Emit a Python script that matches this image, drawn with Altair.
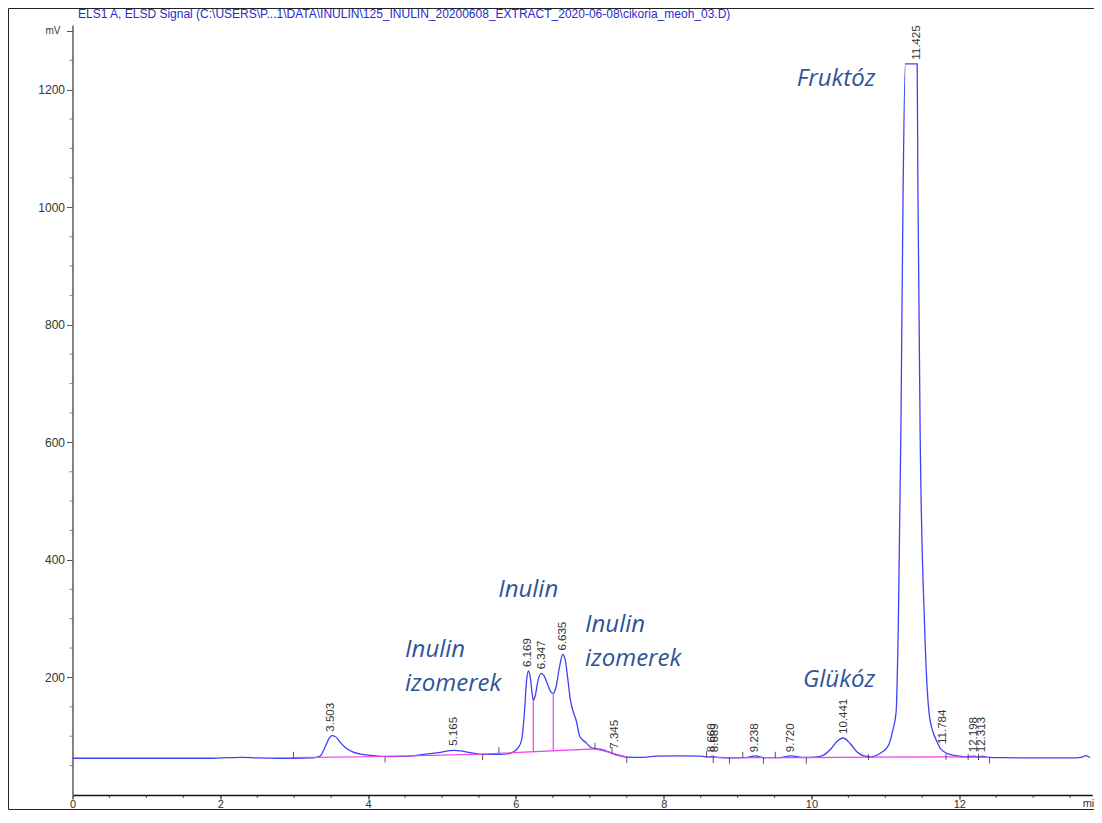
import altair as alt
import pandas as pd

TITLE = "ELS1 A, ELSD Signal (C:\\USERS\\P...1\\DATA\\INULIN\\125_INULIN_20200608_EXTRACT_2020-06-08\\cikoria_meoh_03.D)"

# ---- detector trace (retention time in min, signal in mV) ----
trace_t = [0.0, 1.0, 1.9, 2.1, 2.3, 2.5, 2.8, 3.0, 3.25, 3.35, 3.42, 3.47, 3.51, 3.56, 3.62, 3.70,
           3.80, 3.92, 4.07, 4.3, 4.55, 4.75, 4.95, 5.10, 5.17, 5.25, 5.38, 5.56, 5.78, 5.92, 6.03,
           6.08, 6.115, 6.145, 6.17, 6.195, 6.22, 6.235, 6.26, 6.30, 6.34, 6.38, 6.43, 6.47, 6.506,
           6.54, 6.59, 6.635, 6.67, 6.70, 6.74, 6.78, 6.82, 6.86, 6.90, 6.95, 7.025, 7.09, 7.20,
           7.30, 7.40, 7.50, 7.68, 7.90, 8.20, 8.50, 8.60, 8.665, 8.72, 8.90, 9.10, 9.24, 9.36,
           9.55, 9.72, 9.88, 10.05, 10.15, 10.27, 10.34, 10.43, 10.52, 10.61, 10.70, 10.80, 10.93,
           11.04, 11.10, 11.145, 11.175, 11.21, 11.24, 11.27, 11.43, 11.44, 11.47, 11.53, 11.59,
           11.65, 11.69, 11.74, 11.83, 11.95, 12.10, 12.20, 12.26, 12.31, 12.40, 12.60, 13.00,
           13.50, 13.65, 13.71, 13.77]
trace_v = [62.5, 62.5, 62.5, 63.5, 64, 63, 62.5, 62.5, 63, 66, 82, 96, 101, 99, 90, 80,
           73, 69, 67, 65.5, 66, 69, 72, 75.5, 76, 75, 72, 69, 69, 71, 80,
           95, 140, 195, 211, 200, 172, 161, 168, 195, 207, 203, 188, 176, 173,
           182, 218, 239, 228, 200, 160, 140, 125, 101, 94, 89, 80, 79, 76,
           71, 67, 64.5, 64, 66, 66.5, 66, 64.5, 66, 64, 63, 63.5, 66.5, 63.5,
           63.5, 66.5, 64, 64.5, 67, 79.5, 90.7, 97, 88, 74, 67, 65, 71,
           84, 110, 141, 290, 621, 1033, 1244, 1244, 1033, 621, 290, 141,
           105, 93, 80, 71, 67, 65, 66, 64.5, 66, 64, 63.5, 63,
           63, 64, 67, 63.5]

# ---- integration baseline (two segments) ----
base_seg = ["A", "A", "A", "A", "A", "A", "A", "B", "B", "B", "B", "B", "B"]
base_t = [2.99, 4.23, 5.55, 5.77, 7.07, 7.30, 7.50, 8.58, 8.88, 9.93, 10.77, 11.82, 12.41]
base_v = [63.5, 65.5, 69.5, 71, 78.5, 71.5, 64.5, 64.5, 63.5, 63.5, 64.5, 65, 64]

# ---- drop lines between the inulin peaks ----
drop_t = [6.235, 6.506]
drop_lo = [72.3, 74.3]
drop_hi = [161, 173]

# ---- peak retention-time labels ----
peak_lbl = ["3.503", "5.165", "6.169", "6.347", "6.635", "7.345", "8.660", "8.689", "9.238",
            "9.720", "10.441", "11.425", "11.784", "12.198", "12.313"]
peak_rt = [3.503, 5.165, 6.169, 6.347, 6.635, 7.345, 8.660, 8.689, 9.238,
           9.720, 10.441, 11.425, 11.784, 12.198, 12.313]
peak_v = [101, 77, 211, 207, 239, 72, 66, 66, 66, 66, 97, 1244, 80, 66, 66]

# ---- integration event marks ----
evt_t = [2.99, 4.23, 5.55, 5.77, 7.07, 7.30, 7.50, 8.58, 8.67, 8.89, 9.07, 9.35, 9.51, 9.93,
         10.77, 11.82, 12.12, 12.26, 12.41]
evt_v = [63.5, 65.5, 69.5, 71, 78.5, 71.5, 64.5, 64.5, 64.5, 63.5, 63.5, 63.5, 63.5, 63.5,
         64.5, 65, 64.5, 64.5, 64]
evt_dir = ["up", "down", "down", "up", "up", "up", "down", "up", "down", "down", "up", "down",
           "up", "down", "mid", "mid", "mid", "mid", "down"]

# ---- compound annotations ----
ann_txt = ["Fruktóz", "Inulin", "Inulin", "izomerek", "Inulin", "izomerek", "Glükóz"]
ann_t = [9.80, 5.76, 4.50, 4.50, 6.935, 6.935, 9.885]
ann_v = [1218, 348, 247, 188, 289, 232, 195]

# ---- axis ticks and unit labels ----
x_major = [0, 2, 4, 6, 8, 10, 12]
x_minor = [0.5, 1, 1.5, 2.5, 3, 3.5, 4.5, 5, 5.5, 6.5, 7, 7.5, 8.5, 9, 9.5, 10.5, 11, 11.5,
           12.5, 13, 13.5]
y_major = [200, 400, 600, 800, 1000, 1200, 1300]
y_minor = [50, 100, 150, 250, 300, 350, 450, 500, 550, 650, 700, 750, 850, 900, 950,
           1050, 1100, 1150, 1250]
x_unit_t = [13.67]
x_unit_txt = ["min"]
y_unit_v = [1300]
y_unit_txt = ["mV"]

BLUE = "#4040f4"
MAG = "#f040f0"
ANN = "#2f5496"
W = 1019.8
H = 770.0

trace_df = pd.DataFrame({"t": trace_t, "v": trace_v})
base_df = pd.DataFrame({"t": base_t, "v": base_v, "seg": base_seg})
drop_df = pd.DataFrame({"t": drop_t, "v": drop_lo, "hi": drop_hi})
peak_df = pd.DataFrame({"t": peak_rt, "v": peak_v, "lbl": peak_lbl})
evt_df = pd.DataFrame({"t": evt_t, "v": evt_v, "dir": evt_dir})
ann_df = pd.DataFrame({"t": ann_t, "v": ann_v, "txt": ann_txt})
xmin_df = pd.DataFrame({"t": x_minor})
ymin_df = pd.DataFrame({"v": y_minor})
xunit_df = pd.DataFrame({"t": x_unit_t, "txt": x_unit_txt})
yunit_df = pd.DataFrame({"v": y_unit_v, "txt": y_unit_txt})
one_df = pd.DataFrame({"k": [0]})

xs = alt.Scale(domain=[0, 13.8], nice=False, zero=False)
ys = alt.Scale(domain=[0, 1310], nice=False, zero=False)

x_axis = alt.Axis(
    values=x_major, title=None, grid=False, labelFlush=False, labelOverlap=False,
    tickSize=4, domainColor="#111", domainWidth=1.6, tickColor="#222", tickWidth=1.2,
    labelColor="#333", labelFont="Liberation Sans", labelFontSize=11, labelPadding=-1,
    format="d",
)
y_axis = alt.Axis(
    values=y_major, title=None, grid=False, labelOverlap=False,
    labelExpr="datum.value == 1300 ? '' : datum.value + ''",
    tickSize=6, domainColor="#666", domainWidth=1.6, tickColor="#555", labelColor="#333",
    labelFont="Liberation Sans", labelFontSize=12, labelPadding=2,
)

# every layer carries the same axis definition so the shared axes merge cleanly
X = alt.X("t:Q", scale=xs, axis=x_axis)
Y = alt.Y("v:Q", scale=ys, axis=y_axis)

trace = alt.Chart(trace_df).mark_line(color=BLUE, strokeWidth=1.3, interpolate="monotone").encode(
    x=X, y=Y
)

frame = alt.Chart(one_df).mark_rect(filled=False, stroke="#222", strokeWidth=1).encode(
    x=alt.value(-64), x2=alt.value(W + 20), y=alt.value(-16.5), y2=alt.value(H + 14.5)
)

title = alt.Chart(one_df).mark_text(
    align="left", baseline="middle", font="Liberation Sans", fontSize=12, color="#2a2ad0"
).encode(x=alt.value(5.5), y=alt.value(-11.5), text=alt.value(TITLE))

x_minor_ticks = alt.Chart(xmin_df).mark_tick(
    orient="vertical", size=3, thickness=1.2, color="#222", yOffset=1.5
).encode(x=X, y=alt.value(H))
y_minor_ticks = alt.Chart(ymin_df).mark_tick(
    orient="horizontal", size=3, thickness=1, color="#555", xOffset=-1.5
).encode(y=Y, x=alt.value(0))

x_unit = alt.Chart(xunit_df).mark_text(
    align="left", baseline="top", dy=3, font="Liberation Sans", fontSize=11, color="#333"
).encode(x=X, y=alt.value(H), text="txt:N")
y_unit = alt.Chart(yunit_df).mark_text(
    align="right", baseline="middle", dx=-12, font="Liberation Sans", fontSize=10, color="#333"
).encode(y=Y, x=alt.value(0), text="txt:N")

baseline = alt.Chart(base_df).mark_line(color=MAG, strokeWidth=1.2).encode(
    x=X, y=Y, detail="seg:N"
)
drops = alt.Chart(drop_df).mark_rule(color=MAG, strokeWidth=1.2).encode(
    x=X, y=Y, y2="hi:Q"
)


def evt_layer(direction, offset):
    return alt.Chart(evt_df).transform_filter(alt.datum.dir == direction).mark_tick(
        orient="vertical", size=6, thickness=1, color="#111", yOffset=offset
    ).encode(x=X, y=Y)


peaks = alt.Chart(peak_df).mark_text(
    angle=270, align="left", baseline="middle", dx=4, fontSize=11.5,
    font="Liberation Sans", color="#333"
).encode(x=X, y=Y, text="lbl:N")

ann = alt.Chart(ann_df).mark_text(
    align="left", baseline="middle", font="Open Sans", fontStyle="italic",
    fontSize=24, color=ANN
).encode(x=X, y=Y, text="txt:N")

chart = alt.layer(
    trace, frame, title, x_minor_ticks, y_minor_ticks, x_unit, y_unit,
    baseline, drops,
    evt_layer("up", -3), evt_layer("down", 3), evt_layer("mid", 0),
    peaks, ann,
).properties(
    width=W, height=H,
    autosize=alt.AutoSizeParams(type="none"),
    padding={"left": 64.5, "top": 17, "right": 1.7, "bottom": 15},
).configure_view(strokeWidth=0)

chart.save("out.html", embed_options={"renderer": "svg", "actions": False})
